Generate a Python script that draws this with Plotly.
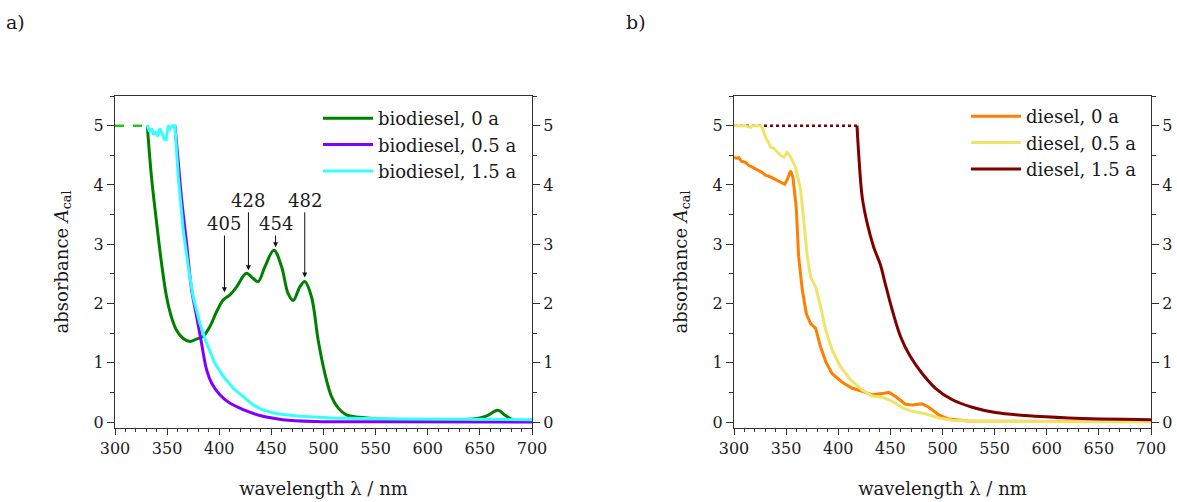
import plotly.graph_objects as go

# ---------------- data: panel a (biodiesel) ----------------
bio0_wl = [331, 335, 340, 344.7, 349.5, 354, 359, 365.5, 372, 378, 384.7, 391, 397.4, 403.8, 410, 416.6,
           426, 432.6, 437.4, 443.8, 452.4, 459.8, 466, 471, 477.3, 482, 488.5, 494.9, 501.3, 507.7, 514,
           522, 534.8, 557, 605, 643.5, 656, 667.4, 673.8, 681.8, 700]
bio0_a = [5.0, 4.13, 3.35, 2.67, 2.11, 1.78, 1.55, 1.41, 1.36, 1.40, 1.45, 1.61, 1.86, 2.06, 2.14, 2.28,
          2.51, 2.42, 2.37, 2.62, 2.90, 2.62, 2.17, 2.05, 2.28, 2.37, 2.11, 1.38, 0.82, 0.43, 0.24,
          0.12, 0.08, 0.05, 0.04, 0.05, 0.10, 0.20, 0.12, 0.04, 0.03]
bio0_sat_wl = [300, 331]
bio0_sat_a = [5.0, 5.0]

bio05_wl = [357.5, 359.7, 364, 368.7, 373.5, 378.3, 383, 387.9, 392.6, 400.6, 410, 423, 439, 461, 493, 550, 700]
bio05_a = [5.0, 4.58, 3.74, 3.01, 2.23, 1.78, 1.33, 0.88, 0.66, 0.46, 0.32, 0.21, 0.11, 0.04, 0.01, 0.005, 0.0]

bio15_wl = [331, 333, 335, 337, 339, 341, 343, 345, 347, 349, 351, 353, 355, 357.5, 360.7, 365.5, 370.3,
            375, 381.5, 387.9, 395.8, 403.8, 413.4, 423, 432.6, 442, 455, 477, 509, 573, 700]
bio15_a = [5.0, 4.9, 4.95, 4.85, 4.9, 4.82, 4.95, 4.88, 4.78, 4.75, 5.0, 4.95, 5.0, 5.0, 4.13, 3.23, 2.62,
           2.11, 1.66, 1.33, 0.99, 0.77, 0.57, 0.43, 0.29, 0.20, 0.14, 0.10, 0.07, 0.05, 0.04]

peak_wl = [405, 428, 454, 482]
peak_a = [2.19, 2.56, 2.95, 2.44]
label_a = [3.35, 3.74, 3.35, 3.74]

# ---------------- data: panel b (diesel) ----------------
die0_wl = [300, 302, 304.8, 307, 311, 314, 317.6, 321, 324, 327, 330.4, 333, 336.8, 340, 343, 346, 348.6,
           351, 354.3, 356.5, 359.7, 362, 365.5, 369.3, 373.5, 378.3, 383, 388, 394, 403.8, 413.4, 423,
           432.6, 442, 448.6, 455, 464.5, 471, 480.4, 486.9, 496.5, 506, 525, 600, 700]
die0_a = [4.47, 4.45, 4.46, 4.40, 4.38, 4.33, 4.30, 4.27, 4.24, 4.21, 4.16, 4.15, 4.12, 4.09, 4.06, 4.04, 4.01,
          4.09, 4.24, 4.13, 3.62, 2.79, 2.23, 1.83, 1.66, 1.58, 1.27, 1.02, 0.82, 0.67, 0.57, 0.52,
          0.46, 0.48, 0.50, 0.43, 0.30, 0.29, 0.31, 0.25, 0.12, 0.05, 0.02, 0.01, 0.01]

die05_wl = [300, 310, 316, 318, 320, 325, 327, 330.4, 333, 335, 338, 340, 344.7, 347.9, 351, 354.3, 359, 364,
            367, 370.3, 373.5, 378.3, 383, 388, 394, 402, 411.8, 423, 432.6, 442, 451.8, 461.5, 471,
            483.7, 496.5, 509, 541, 700]
die05_a = [5.0, 5.0, 4.97, 5.0, 5.0, 5.0, 4.97, 4.80, 4.72, 4.64, 4.62, 4.58, 4.50, 4.47, 4.55, 4.47, 4.30, 3.91,
           3.35, 2.79, 2.45, 2.28, 1.95, 1.55, 1.22, 0.94, 0.71, 0.54, 0.44, 0.42, 0.35, 0.24, 0.18,
           0.14, 0.07, 0.03, 0.01, 0.0]

die15_wl = [418, 419.8, 423, 427.8, 434, 440.5, 445, 451.8, 459.8, 469.3, 480.5, 493.3, 509, 528.4, 550.8,
            579.6, 621, 700]
die15_a = [5.0, 4.47, 3.79, 3.35, 2.95, 2.65, 2.34, 1.89, 1.44, 1.10, 0.82, 0.57, 0.38, 0.25, 0.16,
           0.11, 0.07, 0.04]
die15_sat_wl = [300, 418]
die15_sat_a = [5.0, 5.0]

x_ticks = [300, 350, 400, 450, 500, 550, 600, 650, 700]
y_ticks = [0, 1, 2, 3, 4, 5]

FONT = "DejaVu Serif"
TXT = "#1a1a1a"
GREEN = "#008000"
PURPLE = "#8000ff"
CYAN = "#33ffff"
ORANGE = "#ff8000"
YELLOW = "#f0e468"
DARKRED = "#800000"

fig = go.Figure()

# panel a
fig.add_trace(go.Scatter(x=bio0_sat_wl, y=bio0_sat_a, mode="lines", xaxis="x", yaxis="y",
                         line=dict(color="#22c822", width=2.5, dash="dash"), showlegend=False, hoverinfo="skip"))
fig.add_trace(go.Scatter(x=bio0_wl, y=bio0_a, mode="lines", name="biodiesel, 0 a", xaxis="x", yaxis="y",
                         line=dict(color=GREEN, width=3, shape="spline"), legend="legend"))
fig.add_trace(go.Scatter(x=bio05_wl, y=bio05_a, mode="lines", name="biodiesel, 0.5 a", xaxis="x", yaxis="y",
                         line=dict(color=PURPLE, width=3, shape="spline"), legend="legend"))
fig.add_trace(go.Scatter(x=bio15_wl, y=bio15_a, mode="lines", name="biodiesel, 1.5 a", xaxis="x", yaxis="y3",
                         line=dict(color=CYAN, width=3), legend="legend"))

# panel b
fig.add_trace(go.Scatter(x=die15_sat_wl, y=die15_sat_a, mode="lines", xaxis="x2", yaxis="y2",
                         line=dict(color=DARKRED, width=2.5, dash="dot"), showlegend=False, hoverinfo="skip"))
fig.add_trace(go.Scatter(x=die0_wl, y=die0_a, mode="lines", name="diesel, 0 a", xaxis="x2", yaxis="y2",
                         line=dict(color=ORANGE, width=3), legend="legend2"))
fig.add_trace(go.Scatter(x=die05_wl, y=die05_a, mode="lines", name="diesel, 0.5 a", xaxis="x2", yaxis="y2",
                         line=dict(color=YELLOW, width=3), legend="legend2"))
fig.add_trace(go.Scatter(x=die15_wl, y=die15_a, mode="lines", name="diesel, 1.5 a", xaxis="x2", yaxis="y4",
                         line=dict(color=DARKRED, width=3, shape="spline"), legend="legend2"))

xd1 = [115 / 1177, 532 / 1177]
xd2 = [734 / 1177, 1151 / 1177]
yd = [(502 - 428) / 502, (502 - 96) / 502]

xcommon = dict(range=[300, 700], tickvals=x_ticks, showline=True, linecolor="#333", linewidth=1.2,
               mirror=True, ticks="outside", ticklen=6, tickcolor="#333", showgrid=False, zeroline=False,
               automargin=False,
               minor=dict(dtick=10, ticks="outside", ticklen=3, tickcolor="#333"),
               tickfont=dict(family=FONT, size=16, color=TXT),
               title=dict(text="wavelength λ / nm", font=dict(family=FONT, size=18, color=TXT), standoff=25))
ycommon = dict(range=[-0.1, 5.5], tickvals=y_ticks, showline=True, linecolor="#333", linewidth=1.2,
               ticks="outside", ticklen=7, tickcolor="#333", showgrid=False, zeroline=False,
               automargin=False,
               minor=dict(dtick=0.5, ticks="outside", ticklen=4, tickcolor="#333"),
               tickfont=dict(family=FONT, size=16, color=TXT))
ytitle = dict(text="absorbance <i>A</i><sub>cal</sub>", font=dict(family=FONT, size=18, color=TXT), standoff=20)

fig.update_layout(
    width=1177, height=502,
    margin=dict(l=0, r=0, t=0, b=0),
    paper_bgcolor="white", plot_bgcolor="white",
    font=dict(family=FONT, color=TXT),
    xaxis=dict(domain=xd1, anchor="y", **xcommon),
    xaxis2=dict(domain=xd2, anchor="y2", **xcommon),
    yaxis=dict(domain=yd, anchor="x", side="left", title=ytitle, **ycommon),
    yaxis2=dict(domain=yd, anchor="x2", side="left", title=ytitle, **ycommon),
    yaxis3=dict(overlaying="y", anchor="x", side="right", **ycommon),
    yaxis4=dict(overlaying="y2", anchor="x2", side="right", **ycommon),
    legend=dict(x=318 / 1177, y=(502 - 100) / 502, xanchor="left", yanchor="top", itemwidth=50,
                font=dict(family=FONT, size=18, color=TXT), bgcolor="rgba(0,0,0,0)", tracegroupgap=0),
    legend2=dict(x=966 / 1177, y=(502 - 98) / 502, xanchor="left", yanchor="top", itemwidth=50,
                 font=dict(family=FONT, size=18, color=TXT), bgcolor="rgba(0,0,0,0)", tracegroupgap=0),
    showlegend=True,
)

for wl, a, la in zip(peak_wl, peak_a, label_a):
    fig.add_annotation(x=wl, y=a, xref="x", yref="y", ax=wl, ay=la, axref="x", ayref="y",
                       text=str(wl), showarrow=True, arrowhead=2, arrowsize=1, arrowwidth=1, arrowcolor="#111",
                       font=dict(family=FONT, size=18, color=TXT))

fig.add_annotation(x=15 / 1177, y=(502 - 22) / 502, xref="paper", yref="paper", text="a)", showarrow=False,
                   xanchor="center", yanchor="middle", font=dict(family=FONT, size=19, color=TXT))
fig.add_annotation(x=636 / 1177, y=(502 - 22) / 502, xref="paper", yref="paper", text="b)", showarrow=False,
                   xanchor="center", yanchor="middle", font=dict(family=FONT, size=19, color=TXT))

fig.write_html("out.html", config={"displayModeBar": False},
               post_script="document.body.style.margin='0';document.body.style.overflow='hidden';")
